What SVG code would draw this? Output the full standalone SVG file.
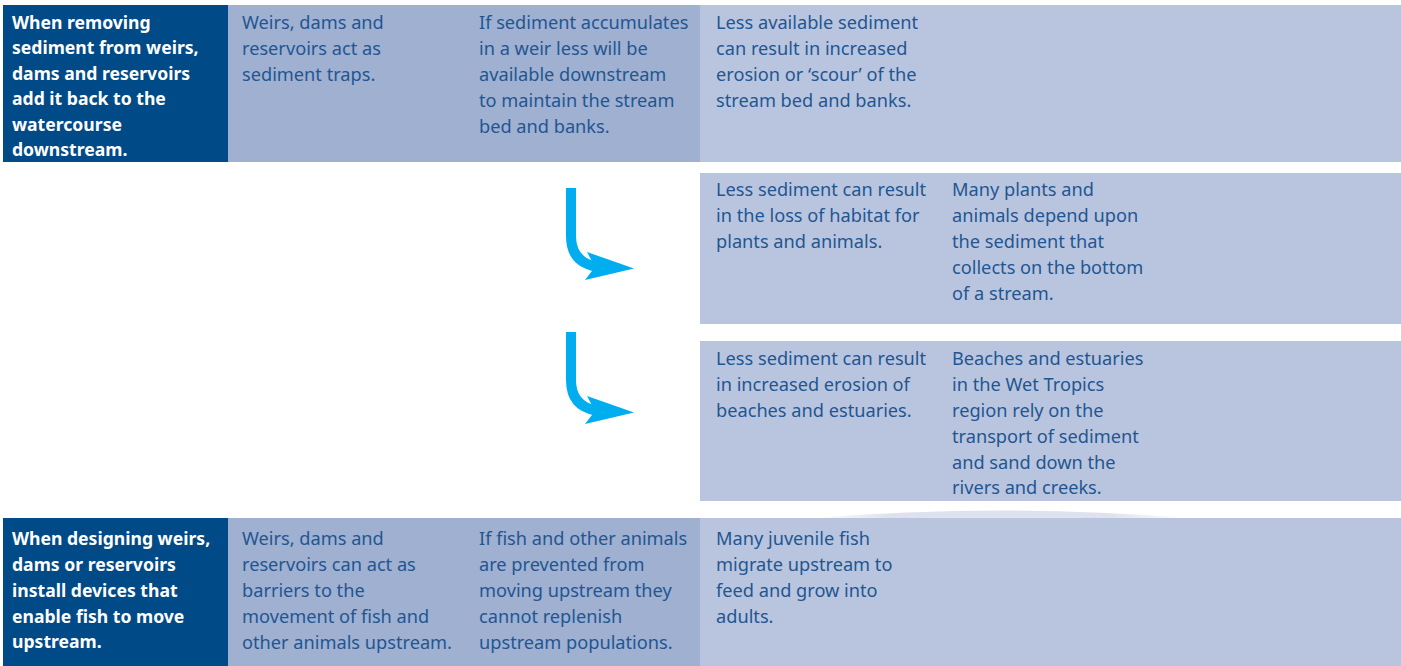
<svg xmlns="http://www.w3.org/2000/svg" width="1401" height="666" viewBox="0 0 1401 666">
  <style>
    .dark { fill: #004a87; }
    .mid { fill: #9fb0d0; }
    .light { fill: #b9c5de; }
    .hd { font-family: "Noto Sans", "Liberation Sans", sans-serif; font-weight: bold; font-size: 17.6px; fill: #ffffff; }
    .tx { font-family: "Noto Sans", "Liberation Sans", sans-serif; font-size: 18.2px; fill: #1f5693; }
    .arrow-stem { fill: none; stroke: #00aeef; stroke-width: 10; }
    .arrow-head { fill: #00aeef; }
  </style>
  <defs>
    <linearGradient id="crest" x1="0" y1="0" x2="1" y2="0">
      <stop offset="0" stop-color="#dde2ee" stop-opacity="0"/>
      <stop offset="0.2" stop-color="#dde2ee" stop-opacity="1"/>
      <stop offset="0.8" stop-color="#dde2ee" stop-opacity="1"/>
      <stop offset="1" stop-color="#dde2ee" stop-opacity="0"/>
    </linearGradient>
  </defs>

  <rect width="1401" height="666" fill="#ffffff"/>

  <!-- Row 1: removing sediment -->
  <g id="row1-action">
    <rect class="dark" x="3" y="5" width="225" height="157"/>
    <text class="hd" x="12" y="28.5">When removing</text>
    <text class="hd" x="12" y="54">sediment from weirs,</text>
    <text class="hd" x="12" y="79.5">dams and reservoirs</text>
    <text class="hd" x="12" y="105">add it back to the</text>
    <text class="hd" x="12" y="130.5">watercourse</text>
    <text class="hd" x="12" y="156">downstream.</text>
  </g>
  <g id="row1-reason">
    <rect class="mid" x="228" y="5" width="472" height="157"/>
    <text class="tx" x="242" y="28.5">Weirs, dams and</text>
    <text class="tx" x="242" y="54.5">reservoirs act as</text>
    <text class="tx" x="242" y="80.5">sediment traps.</text>
    <text class="tx" x="479" y="28.5">If sediment accumulates</text>
    <text class="tx" x="479" y="54.5">in a weir less will be</text>
    <text class="tx" x="479" y="80.5">available downstream</text>
    <text class="tx" x="479" y="106.5">to maintain the stream</text>
    <text class="tx" x="479" y="132.5">bed and banks.</text>
  </g>
  <g id="row1-effect">
    <rect class="light" x="700" y="5" width="701" height="157"/>
    <text class="tx" x="716" y="28.5">Less available sediment</text>
    <text class="tx" x="716" y="54.5">can result in increased</text>
    <text class="tx" x="716" y="80.5">erosion or ‘scour’ of the</text>
    <text class="tx" x="716" y="106.5">stream bed and banks.</text>
  </g>

  <!-- Row 2: habitat loss -->
  <g id="habitat">
    <rect class="light" x="700" y="173" width="701" height="151"/>
    <text class="tx" x="716" y="195.5">Less sediment can result</text>
    <text class="tx" x="716" y="221.5">in the loss of habitat for</text>
    <text class="tx" x="716" y="247.5">plants and animals.</text>
    <text class="tx" x="952" y="195.5">Many plants and</text>
    <text class="tx" x="952" y="221.5">animals depend upon</text>
    <text class="tx" x="952" y="247.5">the sediment that</text>
    <text class="tx" x="952" y="273.5">collects on the bottom</text>
    <text class="tx" x="952" y="299.5">of a stream.</text>
  </g>

  <!-- Row 3: coastal erosion -->
  <g id="coast">
    <rect class="light" x="700" y="341" width="701" height="160"/>
    <text class="tx" x="716" y="364.5">Less sediment can result</text>
    <text class="tx" x="716" y="390.5">in increased erosion of</text>
    <text class="tx" x="716" y="416.5">beaches and estuaries.</text>
    <text class="tx" x="952" y="364.5">Beaches and estuaries</text>
    <text class="tx" x="952" y="390.5">in the Wet Tropics</text>
    <text class="tx" x="952" y="416.5">region rely on the</text>
    <text class="tx" x="952" y="442.5">transport of sediment</text>
    <text class="tx" x="952" y="468.5">and sand down the</text>
    <text class="tx" x="952" y="494">rivers and creeks.</text>
  </g>

  <!-- Row 4: fish passage -->
  <g id="row4-action">
    <rect class="dark" x="3" y="518" width="225" height="148"/>
    <text class="hd" x="12" y="544.5">When designing weirs,</text>
    <text class="hd" x="12" y="570.5">dams or reservoirs</text>
    <text class="hd" x="12" y="596.5">install devices that</text>
    <text class="hd" x="12" y="622.5">enable fish to move</text>
    <text class="hd" x="12" y="648">upstream.</text>
  </g>
  <g id="row4-reason">
    <rect class="mid" x="228" y="518" width="472" height="148"/>
    <text class="tx" x="242" y="544.5">Weirs, dams and</text>
    <text class="tx" x="242" y="570.5">reservoirs can act as</text>
    <text class="tx" x="242" y="596.5">barriers to the</text>
    <text class="tx" x="242" y="622.5">movement of fish and</text>
    <text class="tx" x="242" y="648.5">other animals upstream.</text>
    <text class="tx" x="479" y="544.5">If fish and other animals</text>
    <text class="tx" x="479" y="570.5">are prevented from</text>
    <text class="tx" x="479" y="596.5">moving upstream they</text>
    <text class="tx" x="479" y="622.5">cannot replenish</text>
    <text class="tx" x="479" y="648.5">upstream populations.</text>
  </g>
  <g id="row4-effect">
    <path d="M815,518 Q1000,503 1185,518 Z" fill="url(#crest)"/>
    <rect class="light" x="700" y="518" width="701" height="148"/>
    <text class="tx" x="716" y="544.5">Many juvenile fish</text>
    <text class="tx" x="716" y="570.5">migrate upstream to</text>
    <text class="tx" x="716" y="596.5">feed and grow into</text>
    <text class="tx" x="716" y="622.5">adults.</text>
  </g>

  <!-- Connectors: bent arrows from row 1 to the consequence rows -->
  <g id="connectors">
    <path class="arrow-stem" d="M571,188 V236 Q571,262 596,266.5"/>
    <polygon class="arrow-head" points="634,268.5 587,252 595,267 585,280"/>
    <path class="arrow-stem" d="M571,332 V380 Q571,406 596,410.5"/>
    <polygon class="arrow-head" points="634,412.5 587,396 595,411 585,424"/>
  </g>
</svg>
